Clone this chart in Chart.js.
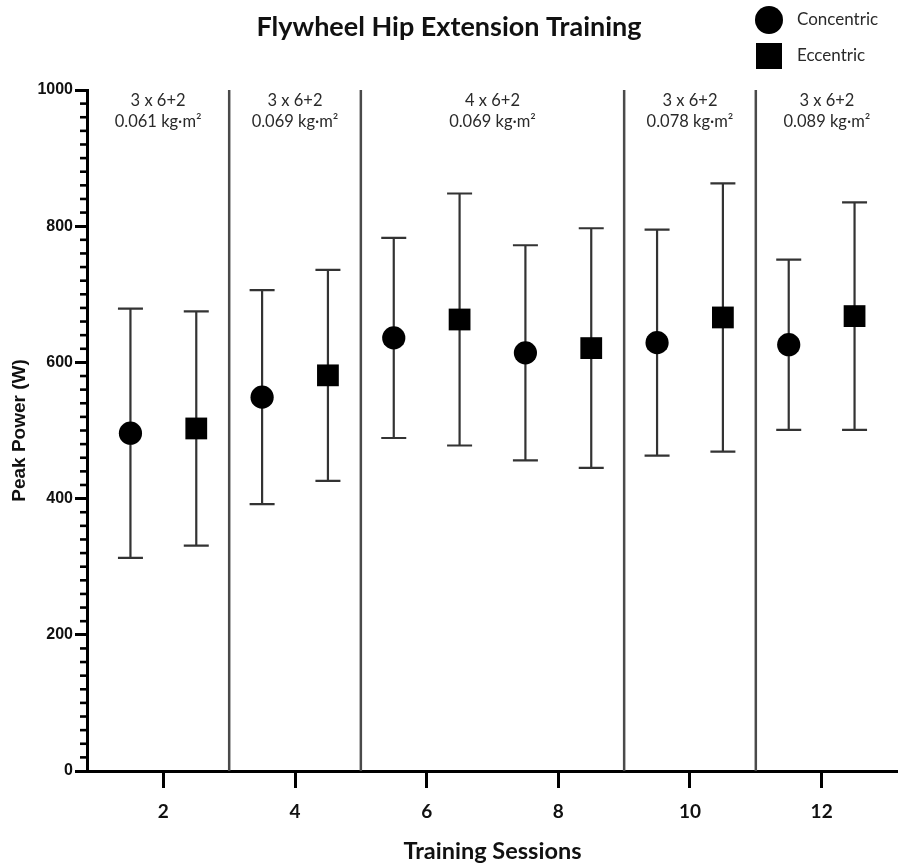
<!DOCTYPE html>
<html>
<head>
<meta charset="utf-8">
<script src="https://cdn.jsdelivr.net/npm/chart.js@4.4.1/dist/chart.umd.min.js"></script>
<style>
  html, body { margin: 0; padding: 0; background: #fff; }
  #wrap { width: 898px; height: 867px; }
</style>
</head>
<body>
<div id="wrap"><canvas id="chart" width="898" height="867"></canvas></div>
<script>
// Training sessions shown on the x axis (each pair: concentric then eccentric)
const sessions = [2, 4, 6, 8, 10, 12];
// Peak power, mean and SD (W)
const concentricMean = [496, 549, 636, 614, 629, 626];
const concentricSD   = [183, 157, 147, 158, 166, 125];
const eccentricMean  = [503, 581, 663, 621, 666, 668];
const eccentricSD    = [172, 155, 185, 176, 197, 167];
// Training phases: boundaries on the session axis and their prescriptions
const phaseBounds  = [3, 5, 9, 11];
const phaseSets    = ['3 x 6+2', '3 x 6+2', '4 x 6+2', '3 x 6+2', '3 x 6+2'];
const phaseInertia = ['0.061 kg·m²', '0.069 kg·m²', '0.069 kg·m²', '0.078 kg·m²', '0.089 kg·m²'];
const yTicks = [0, 200, 400, 600, 800, 1000];
const yMinorStep = 20;

const LATO = 'Lato, "Open Sans", sans-serif';
const ARIAL = '"Liberation Sans", Arial, sans-serif';

const toPoints = (mean, sd, shift) =>
  sessions.map((s, i) => ({ x: s + shift, y: mean[i], sd: sd[i] }));

// Vertical phase dividers + phase captions
const phasePlugin = {
  id: 'phases',
  beforeDatasetsDraw(chart) {
    const { ctx, chartArea } = chart;
    const xs = chart.scales.x;
    ctx.save();
    ctx.strokeStyle = '#4a4a4a';
    ctx.lineWidth = 2.5;
    phaseBounds.forEach(b => {
      const px = xs.getPixelForValue(b);
      ctx.beginPath();
      ctx.moveTo(px, chartArea.top);
      ctx.lineTo(px, chartArea.bottom);
      ctx.stroke();
    });
    const edges = [xs.min, ...phaseBounds, xs.max];
    ctx.fillStyle = '#2a2a2a';
    ctx.font = '16.5px ' + LATO;
    ctx.textAlign = 'center';
    ctx.textBaseline = 'middle';
    for (let i = 0; i < phaseSets.length; i++) {
      const cx = (xs.getPixelForValue(edges[i]) + xs.getPixelForValue(edges[i + 1])) / 2;
      ctx.fillText(phaseSets[i], cx, chartArea.top + 11);
      ctx.fillText(phaseInertia[i], cx, chartArea.top + 32);
    }
    ctx.restore();
  }
};

// Mean ± SD whiskers with caps
const errorBarPlugin = {
  id: 'errorBars',
  beforeDatasetsDraw(chart) {
    const { ctx } = chart;
    const ys = chart.scales.y;
    ctx.save();
    ctx.strokeStyle = '#333';
    ctx.lineWidth = 2.2;
    chart.data.datasets.forEach((ds, di) => {
      const meta = chart.getDatasetMeta(di);
      meta.data.forEach((el, i) => {
        const p = ds.data[i];
        const top = ys.getPixelForValue(p.y + p.sd);
        const bot = ys.getPixelForValue(p.y - p.sd);
        const half = 12.5;
        ctx.beginPath();
        ctx.moveTo(el.x, top); ctx.lineTo(el.x, bot);
        ctx.moveTo(el.x - half, top); ctx.lineTo(el.x + half, top);
        ctx.moveTo(el.x - half, bot); ctx.lineTo(el.x + half, bot);
        ctx.stroke();
      });
    });
    ctx.restore();
  }
};

// Short minor ticks on the power axis
const minorTickPlugin = {
  id: 'minorTicks',
  afterDraw(chart) {
    const { ctx, chartArea } = chart;
    const ys = chart.scales.y;
    ctx.save();
    ctx.strokeStyle = '#000';
    ctx.lineWidth = 2.6;
    for (let v = ys.min + yMinorStep; v < ys.max; v += yMinorStep) {
      if (yTicks.includes(v)) continue;
      const py = ys.getPixelForValue(v);
      ctx.beginPath();
      ctx.moveTo(chartArea.left - 7, py);
      ctx.lineTo(chartArea.left, py);
      ctx.stroke();
    }
    ctx.restore();
  }
};

// Legend with large marker symbols in the top-right corner
const legendPlugin = {
  id: 'symbolLegend',
  afterDraw(chart) {
    const { ctx } = chart;
    const x0 = chart.width - 129;
    const rows = [
      { label: 'Concentric', style: 'circle', radius: 14, y: 20 },
      { label: 'Eccentric', style: 'rect', radius: 18.4, y: 56 }
    ];
    ctx.save();
    rows.forEach(r => {
      ctx.fillStyle = '#000';
      ctx.strokeStyle = '#000';
      Chart.helpers.drawPoint(ctx, { pointStyle: r.style, radius: r.radius, borderWidth: 0, rotation: 0 }, x0, r.y);
      ctx.fillStyle = '#2a2a2a';
      ctx.font = '17px ' + LATO;
      ctx.textAlign = 'left';
      ctx.textBaseline = 'middle';
      ctx.fillText(r.label, x0 + 28, r.y);
    });
    ctx.restore();
  }
};

new Chart(document.getElementById('chart'), {
  type: 'scatter',
  data: {
    datasets: [
      {
        label: 'Concentric',
        data: toPoints(concentricMean, concentricSD, -0.5),
        pointStyle: 'circle',
        pointRadius: 11.6,
        pointHoverRadius: 11.6,
        backgroundColor: '#000',
        borderColor: '#000',
        borderWidth: 0
      },
      {
        label: 'Eccentric',
        data: toPoints(eccentricMean, eccentricSD, 0.5),
        pointStyle: 'rect',
        pointRadius: 15.4,
        pointHoverRadius: 15.4,
        backgroundColor: '#000',
        borderColor: '#000',
        borderWidth: 0
      }
    ]
  },
  options: {
    responsive: false,
    animation: false,
    events: [],
    layout: { padding: 0, autoPadding: false },
    plugins: {
      legend: { display: false },
      tooltip: { enabled: false },
      title: {
        display: true,
        text: 'Flywheel Hip Extension Training',
        color: '#111',
        font: { family: LATO, weight: 'bold', size: 27 },
        padding: { top: 11, bottom: 46.6 }
      }
    },
    scales: {
      x: {
        type: 'linear',
        min: 0.84,
        max: 13.16,
        afterBuildTicks: s => { s.ticks = sessions.map(v => ({ value: v })); },
        afterFit: s => { s.height = 96; s.paddingLeft = 0; s.paddingRight = 0; },
        ticks: {
          color: '#111',
          font: { family: LATO, weight: 'bold', size: 19 },
          padding: 12,
          callback: v => String(v)
        },
        grid: { drawOnChartArea: false, tickLength: 17, tickWidth: 3, tickColor: '#000' },
        border: { display: true, width: 3, color: '#000' },
        title: {
          display: true,
          text: 'Training Sessions',
          color: '#111',
          font: { family: LATO, weight: 'bold', size: 23.5 },
          padding: { top: 0, bottom: 1 }
        }
      },
      y: {
        min: 0,
        max: 1000,
        afterBuildTicks: s => { s.ticks = yTicks.map(v => ({ value: v })); },
        afterFit: s => { s.width = 87; },
        ticks: {
          color: '#111',
          font: { family: ARIAL, weight: 'bold', size: 16 },
          padding: 2,
          callback: v => String(v)
        },
        grid: { drawOnChartArea: false, tickLength: 12, tickWidth: 3, tickColor: '#000' },
        border: { display: true, width: 3, color: '#000' },
        title: {
          display: true,
          text: 'Peak Power (W)',
          color: '#111',
          font: { family: ARIAL, weight: 'bold', size: 19 },
          padding: { top: 8, bottom: 0 }
        }
      }
    }
  },
  plugins: [phasePlugin, errorBarPlugin, minorTickPlugin, legendPlugin]
});
</script>
</body>
</html>
